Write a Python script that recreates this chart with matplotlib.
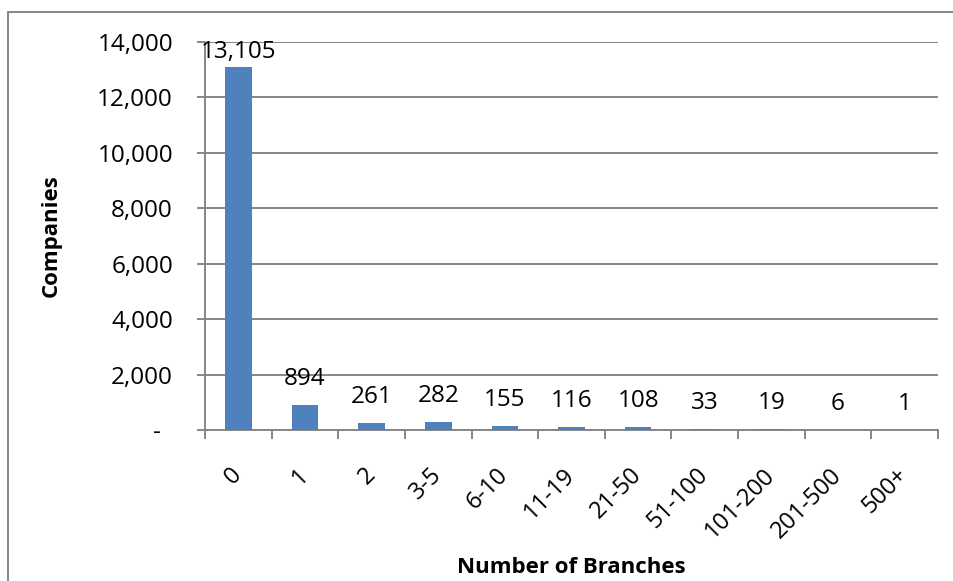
import matplotlib
matplotlib.use("Agg")
import matplotlib.pyplot as plt
from matplotlib.patches import Rectangle
import numpy as np

categories = ["0", "1", "2", "3-5", "6-10", "11-19", "21-50", "51-100", "101-200", "201-500", "500+"]
companies = [13105, 894, 261, 282, 155, 116, 108, 33, 19, 6, 1]
y_ticks = [0, 2000, 4000, 6000, 8000, 10000, 12000, 14000]
y_tick_labels = ["-  ", "2,000", "4,000", "6,000", "8,000", "10,000", "12,000", "14,000"]

plt.rcParams['font.family'] = ['Open Sans', 'DejaVu Sans']
BAR = "#4F81BD"
GRID = "#868686"

W, H = 954, 581
PT = 0.72  # points per pixel at dpi 100
fig = plt.figure(figsize=(W / 100, H / 100), dpi=100)
ax = fig.add_axes([205 / W, 1 - 430 / H, (938 - 205) / W, (430 - 42) / H])

x = np.arange(len(categories))
ax.bar(x, companies, width=0.4, color=BAR, zorder=3)

ax.set_xlim(-0.5, len(categories) - 0.5)
ax.set_ylim(0, 14000)

ax.set_yticks(y_ticks)
ax.set_yticklabels(y_tick_labels, fontsize=17.5)
ax.yaxis.grid(True, color=GRID, linewidth=1.4, zorder=0)
ax.set_axisbelow(True)
ax.tick_params(axis='y', length=8 * PT, width=1.4, color=GRID, pad=24 * PT, direction='out')

ax.set_xticks(np.arange(-0.5, len(categories), 1.0))
ax.set_xticklabels([])
ax.set_xticks(x, minor=True)
ax.set_xticklabels(categories, minor=True, fontsize=17, rotation=45,
                   ha='right', va='center', rotation_mode='anchor')
ax.tick_params(axis='x', which='major', length=9 * PT, width=1.4, color=GRID, direction='out')
ax.tick_params(axis='x', which='minor', length=0, pad=30)

for s in ['top', 'right']:
    ax.spines[s].set_visible(False)
for s in ['left', 'bottom']:
    ax.spines[s].set_color(GRID)
    ax.spines[s].set_linewidth(1.4)

units_per_px = 14000 / (430 - 42)
for xi, v in zip(x, companies):
    yc = min(v + 26 * units_per_px, 14000 - 10 * units_per_px)
    ax.text(xi, yc, f"{v:,}", ha='center', va='center', fontsize=17.5, zorder=4)

ax.set_xlabel("Number of Branches", fontsize=16, fontweight='bold')
ax.xaxis.set_label_coords(0.5, -(557 - 430) / (430 - 42))
ax.set_ylabel("Companies", fontsize=16, fontweight='bold')
ax.yaxis.set_label_coords(-(205 - 62) / (938 - 205), 0.5)

fig.add_artist(Rectangle((8 / W, -0.05), 1.2, (H - 12) / H + 0.05,
                         transform=fig.transFigure, fill=False,
                         edgecolor=GRID, linewidth=1.4))

fig.savefig("out.png", dpi=100)
